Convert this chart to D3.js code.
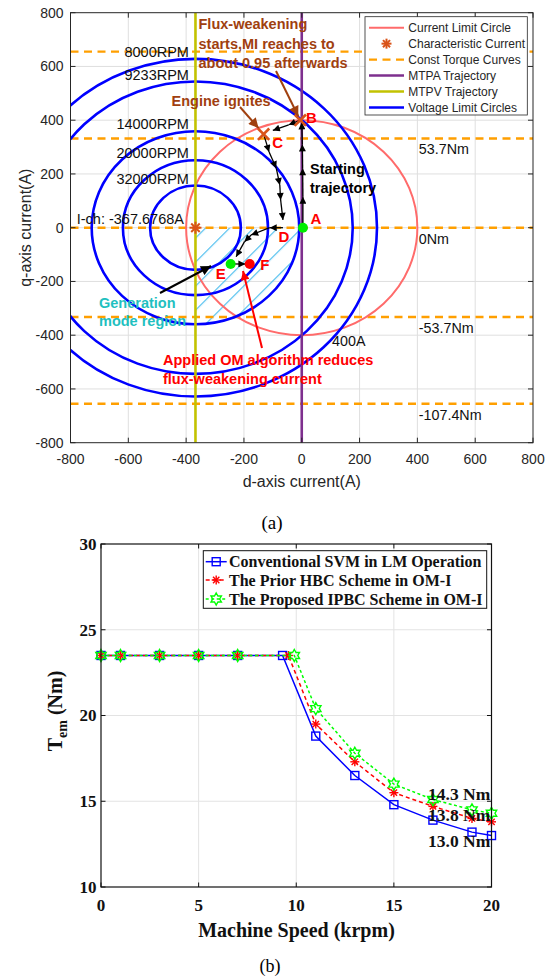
<!DOCTYPE html>
<html><head><meta charset="utf-8">
<script src="https://cdn.jsdelivr.net/npm/d3@7"></script>
<style>body{margin:0;background:#fff}text{font-family:"Liberation Sans",Arial,sans-serif}</style>
</head><body><svg id="c" width="549" height="978" xmlns="http://www.w3.org/2000/svg"></svg>
<script>
// ================= TOP CHART DATA =================
const dTicks = [-800,-600,-400,-200,0,200,400,600,800];
const qTicks = [-800,-600,-400,-200,0,200,400,600,800];
const iChd = -367.6768;
const voltageLabels = ["8000RPM","9233RPM","14000RPM","20000RPM","32000RPM"];
const voltageRadii = [628,544,359,251,157];
const currentLimit = 400;
const torqueIq = [655,332,0,-332,-655];
const torqueLabels = ["107.4Nm","53.7Nm","0Nm","-53.7Nm","-107.4Nm"];
const startTraj = [[4,0],[4,115],[3,221],[2,310],[0,392]];
const bcTraj = [[-5,400],[-45,383],[-100,362]];
const cdTraj = [[-132,348],[-113,282],[-88,221],[-76,159],[-73,103],[-65,29]];
const deTraj = [[-65,0],[-111,0],[-175,-27],[-198,-52],[-227,-108]];
const efTraj = [[-246,-135],[-195,-135]];
const pointA = [4,0], pointB = [-5,400], pointC = [-132,348], pointD = [-65,0];
const pointE = [-246,-135], pointF = [-180,-135];
const legendTop = ["Current Limit Circle","Characteristic Current","Const Torque Curves","MTPA Trajectory","MTPV Trajectory","Voltage Limit Circles"];

// ================= BOTTOM CHART DATA =================
const speedTicks = [0,5,10,15,20];
const temTicks = [10,15,20,25,30];
const convSpeed = [0,1,3,5,7,9.3,11,13,15,17,19,20];
const convTem   = [23.5,23.5,23.5,23.5,23.5,23.5,18.8,16.5,14.8,13.9,13.2,13.0];
const hbcSpeed  = [0,1,3,5,7,9.6,11,13,15,17,19,20];
const hbcTem    = [23.5,23.5,23.5,23.5,23.5,23.5,19.5,17.3,15.5,14.7,14.0,13.8];
const ipbcSpeed = [0,1,3,5,7,9.9,11,13,15,17,19,20];
const ipbcTem   = [23.5,23.5,23.5,23.5,23.5,23.5,20.4,17.8,16.0,15.1,14.5,14.3];
const legendBottom = ["Conventional SVM in LM Operation","The Prior HBC Scheme in OM-I","The Proposed IPBC Scheme in OM-I"];
const endLabels = ["14.3 Nm","13.8 Nm","13.0 Nm"];

const svg = d3.select("#c");
const defs = svg.append("defs");
function arrowMarker(id, color, w, h){
  defs.append("marker").attr("id",id).attr("viewBox","0 0 10 10").attr("refX",10).attr("refY",5)
    .attr("markerWidth",w).attr("markerHeight",h).attr("markerUnits","userSpaceOnUse").attr("orient","auto")
    .append("path").attr("d","M0,0 L10,5 L0,10 z").attr("fill",color);
}
arrowMarker("ab","#000",9,7);
arrowMarker("ar","#ff0000",11,9);
arrowMarker("abr","#a0400f",12,10);
arrowMarker("abk","#000",12,10);

// ================= TOP CHART =================
const x = d3.scaleLinear().domain([-800,800]).range([70.5,533]);
const y = d3.scaleLinear().domain([-800,800]).range([442.7,12.7]);
const axCol = "#262626";
const gT = svg.append("g");
defs.append("clipPath").attr("id","clipT").append("rect")
  .attr("x",x(-800)).attr("y",y(800)).attr("width",x(800)-x(-800)).attr("height",y(-800)-y(800));
gT.append("g").selectAll("line").data(dTicks.slice(1,-1)).join("line")
  .attr("x1",d=>x(d)).attr("x2",d=>x(d)).attr("y1",y(800)).attr("y2",y(-800)).attr("stroke","#dfdfdf").attr("stroke-width",1);
gT.append("g").selectAll("line").data(qTicks.slice(1,-1)).join("line")
  .attr("y1",d=>y(d)).attr("y2",d=>y(d)).attr("x1",x(-800)).attr("x2",x(800)).attr("stroke","#dfdfdf").attr("stroke-width",1);

const plot = gT.append("g").attr("clip-path","url(#clipT)");
const pat = defs.append("pattern").attr("id","hatch").attr("patternUnits","userSpaceOnUse")
  .attr("width",17).attr("height",17).attr("patternTransform","rotate(45)");
pat.append("line").attr("x1",0).attr("y1",0).attr("x2",0).attr("y2",17).attr("stroke","#4dbeee").attr("stroke-width",2.4);
const hatchR = voltageRadii[2];
const hatchPts = [[iChd,0]];
for(let a=0;a<=90;a+=2){ const t=a*Math.PI/180; hatchPts.push([iChd+hatchR*Math.cos(t), -hatchR*Math.sin(t)]); }
plot.append("path").attr("d", d3.line().x(p=>x(p[0])).y(p=>y(p[1]))(hatchPts)+"Z").attr("fill","url(#hatch)");

plot.append("g").selectAll("line").data(torqueIq).join("line")
  .attr("x1",x(-800)).attr("x2",x(800)).attr("y1",d=>y(d)).attr("y2",d=>y(d))
  .attr("stroke","#ff9f00").attr("stroke-width",2.4).attr("stroke-dasharray","8,5.5");
plot.append("ellipse").attr("cx",x(0)).attr("cy",y(0)).attr("rx",x(currentLimit)-x(0)).attr("ry",y(0)-y(currentLimit))
  .attr("fill","none").attr("stroke","#ff6b6b").attr("stroke-width",2);
plot.append("g").selectAll("ellipse").data(voltageRadii).join("ellipse")
  .attr("cx",x(iChd)).attr("cy",y(0)).attr("rx",r=>x(r)-x(0)).attr("ry",r=>y(0)-y(r))
  .attr("fill","none").attr("stroke","#0000ff").attr("stroke-width",2.6);
plot.append("line").attr("x1",x(0)).attr("x2",x(0)).attr("y1",y(-800)).attr("y2",y(800)).attr("stroke","#7e2f8e").attr("stroke-width",2.6);
plot.append("line").attr("x1",x(iChd)).attr("x2",x(iChd)).attr("y1",y(-800)).attr("y2",y(800)).attr("stroke","#c2c200").attr("stroke-width",2.6);

// torque labels (the top one lies under the legend in the reference, so it is not shown)
const torqueShown = torqueIq.map((q,i)=>({q,t:torqueLabels[i]})).slice(1);
gT.append("g").selectAll("text").data(torqueShown).join("text")
  .attr("x",x(405)).attr("y",d=>y(d.q)+11).attr("dy","0.35em").attr("font-size",14.3).attr("fill","#111")
  .text(d=>d.t);
gT.append("g").selectAll("text").data(voltageRadii).join("text")
  .attr("x",x(iChd)-6.5).attr("y",r=>y(r)-7).attr("dy","0.35em").attr("text-anchor","end").attr("font-size",14.5).attr("fill","#111")
  .text((r,i)=>voltageLabels[i]);
gT.append("text").attr("x",x(iChd)-11.5).attr("y",y(0)-8.4).attr("dy","0.35em").attr("text-anchor","end").attr("font-size",14.5).attr("fill","#111")
  .text("I-ch: -367.6768A");
gT.append("text").attr("x",x(105)).attr("y",y(-420)).attr("dy","0.35em").attr("font-size",14.3).attr("fill","#111").text("400A");

function chain(pts, marker){
  for(let i=0;i<pts.length-1;i++){
    gT.append("line").attr("x1",x(pts[i][0])).attr("y1",y(pts[i][1])).attr("x2",x(pts[i+1][0])).attr("y2",y(pts[i+1][1]))
      .attr("stroke","#000").attr("stroke-width",1.3).attr("marker-end","url(#"+marker+")");
  }
}
chain(startTraj,"ab"); chain(bcTraj,"ab"); chain(cdTraj,"ab"); chain(deTraj,"ab"); chain(efTraj,"ab");

function asterisk(g,cx,cy,s,col,w){
  [[0,1],[1,0],[0.707,0.707],[0.707,-0.707]].forEach(v=>{
    g.append("line").attr("x1",cx-v[0]*s).attr("y1",cy-v[1]*s).attr("x2",cx+v[0]*s).attr("y2",cy+v[1]*s)
      .attr("stroke",col).attr("stroke-width",w);
  });
}
function xmark(g,cx,cy,s,col,w){
  [[0.707,0.707],[0.707,-0.707]].forEach(v=>{
    g.append("line").attr("x1",cx-v[0]*s).attr("y1",cy-v[1]*s).attr("x2",cx+v[0]*s).attr("y2",cy+v[1]*s)
      .attr("stroke",col).attr("stroke-width",w);
  });
}
asterisk(gT,x(iChd),y(0),6,"#d95319",2);
xmark(gT,x(pointB[0]),y(pointB[1]),8,"#d95319",2.6);
xmark(gT,x(pointC[0]),y(pointC[1]),8,"#d95319",2.6);
gT.append("circle").attr("cx",x(pointA[0])).attr("cy",y(pointA[1])).attr("r",5).attr("fill","#00ee00");
gT.append("circle").attr("cx",x(pointE[0])).attr("cy",y(pointE[1])).attr("r",5).attr("fill","#00ee00");
gT.append("circle").attr("cx",x(pointF[0])).attr("cy",y(pointF[1])).attr("r",5).attr("fill","#ff0000");
const ptLab = [["A",pointA,13,-9],["B",pointB,11,-2],["C",pointC,14,9],["D",pointD,1,9.5],["E",pointE,-10,10],["F",pointF,15,1]];
gT.append("g").selectAll("text").data(ptLab).join("text")
  .attr("x",d=>x(d[1][0])+d[2]).attr("y",d=>y(d[1][1])+d[3]).attr("dy","0.35em").attr("text-anchor","middle")
  .attr("font-size",15).attr("font-weight","bold").attr("fill","#ff0000").text(d=>d[0]);

const brown="#a0400f";
const fw = gT.append("text").attr("font-size",14.5).attr("font-weight","bold").attr("fill",brown);
["Flux-weakening","starts,MI reaches to","about 0.95 afterwards"].forEach((s,i)=>fw.append("tspan").attr("x",198.5).attr("y",29+i*19.6).text(s));
gT.append("text").attr("x",171.5).attr("y",105.5).attr("font-size",14.5).attr("font-weight","bold").attr("fill",brown).text("Engine ignites");
gT.append("line").attr("x1",276).attr("y1",71).attr("x2",x(pointB[0])-2).attr("y2",y(pointB[1])-4).attr("stroke",brown).attr("stroke-width",2).attr("marker-end","url(#abr)");
gT.append("line").attr("x1",240).attr("y1",107).attr("x2",x(pointC[0])-5).attr("y2",y(pointC[1])-6).attr("stroke",brown).attr("stroke-width",2).attr("marker-end","url(#abr)");
const st = gT.append("text").attr("font-size",14.5).attr("font-weight","bold").attr("fill","#000");
["Starting","trajectory"].forEach((s,i)=>st.append("tspan").attr("x",310).attr("y",174+i*19).text(s));
const gm = gT.append("text").attr("font-size",14.5).attr("font-weight","bold").attr("fill","#1fc0c0");
["Generation","mode region"].forEach((s,i)=>gm.append("tspan").attr("x",99).attr("y",307.5+i*18.5).text(s));
gT.append("line").attr("x1",160).attr("y1",293).attr("x2",211).attr("y2",266).attr("stroke","#000").attr("stroke-width",2).attr("marker-end","url(#abk)");
const om = gT.append("text").attr("font-size",14.5).attr("font-weight","bold").attr("fill","#ff0000");
["Applied OM algorithm reduces","flux-weakening current"].forEach((s,i)=>om.append("tspan").attr("x",163).attr("y",365+i*18.5).text(s));
gT.append("line").attr("x1",262).attr("y1",348).attr("x2",243).attr("y2",271).attr("stroke","#ff0000").attr("stroke-width",2).attr("marker-end","url(#ar)");

gT.append("rect").attr("x",x(-800)).attr("y",y(800)).attr("width",x(800)-x(-800)).attr("height",y(-800)-y(800))
  .attr("fill","none").attr("stroke",axCol).attr("stroke-width",1);
const tl=5;
dTicks.forEach(d=>{
  gT.append("line").attr("x1",x(d)).attr("x2",x(d)).attr("y1",y(-800)).attr("y2",y(-800)-tl).attr("stroke",axCol);
  gT.append("line").attr("x1",x(d)).attr("x2",x(d)).attr("y1",y(800)).attr("y2",y(800)+tl).attr("stroke",axCol);
});
qTicks.forEach(d=>{
  gT.append("line").attr("y1",y(d)).attr("y2",y(d)).attr("x1",x(-800)).attr("x2",x(-800)+tl).attr("stroke",axCol);
  gT.append("line").attr("y1",y(d)).attr("y2",y(d)).attr("x1",x(800)).attr("x2",x(800)-tl).attr("stroke",axCol);
});
gT.append("g").selectAll("text").data(dTicks).join("text").attr("x",d=>x(d)).attr("y",459.5).attr("dy","0.35em")
  .attr("text-anchor","middle").attr("font-size",14).attr("fill",axCol).text(d=>d);
gT.append("g").selectAll("text").data(qTicks).join("text").attr("x",63.5).attr("y",d=>y(d)).attr("dy","0.35em")
  .attr("text-anchor","end").attr("font-size",14).attr("fill",axCol).text(d=>d);
gT.append("text").attr("x",x(0)).attr("y",481).attr("dy","0.35em").attr("text-anchor","middle").attr("font-size",16).attr("fill",axCol).text("d-axis current(A)");
gT.append("text").attr("transform",`translate(25,${y(0)}) rotate(-90)`).attr("dy","0.35em").attr("text-anchor","middle").attr("font-size",16).attr("fill",axCol).text("q-axis current(A)");

const lg = gT.append("g");
lg.append("rect").attr("x",365).attr("y",16.7).attr("width",162.3).attr("height",98.3).attr("fill","#fff").attr("stroke",axCol).attr("stroke-width",0.8);
legendTop.forEach((s,i)=>{
  const ly = 27.7 + i*15.95;
  if(i===0) lg.append("line").attr("x1",369).attr("x2",404).attr("y1",ly).attr("y2",ly).attr("stroke","#ff6b6b").attr("stroke-width",2);
  if(i===1) asterisk(lg,386.5,ly,5,"#d95319",2);
  if(i===2) lg.append("line").attr("x1",369).attr("x2",404).attr("y1",ly).attr("y2",ly).attr("stroke","#ff9f00").attr("stroke-width",2.4).attr("stroke-dasharray","8,5.5");
  if(i===3) lg.append("line").attr("x1",369).attr("x2",404).attr("y1",ly).attr("y2",ly).attr("stroke","#7e2f8e").attr("stroke-width",2.6);
  if(i===4) lg.append("line").attr("x1",369).attr("x2",404).attr("y1",ly).attr("y2",ly).attr("stroke","#c2c200").attr("stroke-width",2.6);
  if(i===5) lg.append("line").attr("x1",369).attr("x2",404).attr("y1",ly).attr("y2",ly).attr("stroke","#0000ff").attr("stroke-width",2.6);
  lg.append("text").attr("x",408.3).attr("y",ly).attr("dy","0.35em").attr("font-size",12).attr("fill",axCol).text(s);
});
svg.append("text").attr("x",272).attr("y",522).attr("dy","0.35em").attr("text-anchor","middle")
  .attr("font-size",19).style("font-family","'Liberation Serif','Times New Roman',serif").text("(a)");

// ================= BOTTOM CHART =================
const serif = "'Liberation Serif','Times New Roman',serif";
const bx = d3.scaleLinear().domain([0,20]).range([101,491.5]);
const by = d3.scaleLinear().domain([10,30]).range([887,544]);
const bot = svg.append("g");
bot.append("g").selectAll("line").data(speedTicks.slice(1,-1)).join("line")
  .attr("x1",d=>bx(d)).attr("x2",d=>bx(d)).attr("y1",by(10)).attr("y2",by(30)).attr("stroke","#e3e3e3");
bot.append("g").selectAll("line").data(temTicks.slice(1,-1)).join("line")
  .attr("y1",d=>by(d)).attr("y2",d=>by(d)).attr("x1",bx(0)).attr("x2",bx(20)).attr("stroke","#e3e3e3");

const series = [
  {sp:convSpeed, tm:convTem, col:"#0000ff", dash:null, mk:"sq"},
  {sp:hbcSpeed, tm:hbcTem, col:"#ff0000", dash:"4,3", mk:"ast"},
  {sp:ipbcSpeed, tm:ipbcTem, col:"#00ff00", dash:"3,2.5", mk:"hex"}
];
function hexPath(r){
  const p=[];
  for(let k=0;k<12;k++){ const a=-Math.PI/2 + k*Math.PI/6; const rr = k%2===0? r : r*0.577; p.push([rr*Math.cos(a), rr*Math.sin(a)]); }
  return "M"+p.map(q=>q[0].toFixed(2)+","+q[1].toFixed(2)).join("L")+"Z";
}
function marker(g,type,cx,cy,col){
  if(type==="sq") g.append("rect").attr("x",cx-4).attr("y",cy-4).attr("width",8).attr("height",8).attr("fill","none").attr("stroke",col).attr("stroke-width",1.4);
  if(type==="ast") asterisk(g,cx,cy,4.5,col,1.4);
  if(type==="hex") g.append("path").attr("transform",`translate(${cx},${cy})`).attr("d",hexPath(6)).attr("fill","none").attr("stroke",col).attr("stroke-width",1.4);
}
series.forEach(s=>{
  const pts = s.sp.map((v,i)=>[v,s.tm[i]]);
  bot.append("path").attr("d",d3.line().x(p=>bx(p[0])).y(p=>by(p[1]))(pts)).attr("fill","none")
    .attr("stroke",s.col).attr("stroke-width",1.5).attr("stroke-dasharray",s.dash);
  const mg = bot.append("g");
  pts.forEach(p=>marker(mg,s.mk,bx(p[0]),by(p[1]),s.col));
});
bot.append("g").selectAll("text").data(endLabels).join("text")
  .attr("x",428).attr("y",(d,i)=>[794,814.5,841][i]).attr("dy","0.35em").attr("font-size",17.5).attr("font-weight","bold")
  .style("font-family",serif).attr("fill","#111").text(d=>d);

bot.append("rect").attr("x",bx(0)).attr("y",by(30)).attr("width",bx(20)-bx(0)).attr("height",by(10)-by(30)).attr("fill","none").attr("stroke","#111").attr("stroke-width",1.2);
speedTicks.forEach(d=>{
  bot.append("line").attr("x1",bx(d)).attr("x2",bx(d)).attr("y1",by(10)).attr("y2",by(10)-4.5).attr("stroke","#111");
  bot.append("line").attr("x1",bx(d)).attr("x2",bx(d)).attr("y1",by(30)).attr("y2",by(30)+4.5).attr("stroke","#111");
});
temTicks.forEach(d=>{
  bot.append("line").attr("y1",by(d)).attr("y2",by(d)).attr("x1",bx(0)).attr("x2",bx(0)+4.5).attr("stroke","#111");
  bot.append("line").attr("y1",by(d)).attr("y2",by(d)).attr("x1",bx(20)).attr("x2",bx(20)-4.5).attr("stroke","#111");
});
bot.append("g").selectAll("text").data(speedTicks).join("text").attr("x",d=>bx(d)).attr("y",905.5).attr("dy","0.35em")
  .attr("text-anchor","middle").attr("font-size",17).attr("font-weight","bold").style("font-family",serif).attr("fill","#111").text(d=>d);
bot.append("g").selectAll("text").data(temTicks).join("text").attr("x",96.5).attr("y",d=>by(d)).attr("dy","0.35em")
  .attr("text-anchor","end").attr("font-size",17).attr("font-weight","bold").style("font-family",serif).attr("fill","#111").text(d=>d);
bot.append("text").attr("x",296.5).attr("y",930).attr("dy","0.35em").attr("text-anchor","middle").attr("font-size",20)
  .attr("font-weight","bold").style("font-family",serif).attr("fill","#111").text("Machine Speed (krpm)");
const yl = bot.append("text").attr("transform","translate(62,711) rotate(-90)").attr("text-anchor","middle")
  .attr("font-size",20).attr("font-weight","bold").style("font-family",serif).attr("fill","#111");
yl.append("tspan").text("T");
yl.append("tspan").attr("font-size",14).attr("dy",5).text("em");
yl.append("tspan").attr("dy",-5).text(" (Nm)");
const bl = bot.append("g");
bl.append("rect").attr("x",203.3).attr("y",550.7).attr("width",283.4).attr("height",57.6).attr("fill","#fff").attr("stroke","#111").attr("stroke-width",1);
legendBottom.forEach((s,i)=>{
  const ly=[561.7,580,599][i];
  bl.append("line").attr("x1",205.7).attr("x2",226.7).attr("y1",ly).attr("y2",ly).attr("stroke",series[i].col).attr("stroke-width",1.5).attr("stroke-dasharray",series[i].dash);
  marker(bl,series[i].mk,216.2,ly,series[i].col);
  bl.append("text").attr("x",229).attr("y",ly).attr("dy","0.35em").attr("font-size",16).attr("font-weight","bold").style("font-family",serif).attr("fill","#111").text(s);
});
svg.append("text").attr("x",270).attr("y",966).attr("dy","0.35em").attr("text-anchor","middle")
  .attr("font-size",18).style("font-family",serif).text("(b)");
</script></body></html>
